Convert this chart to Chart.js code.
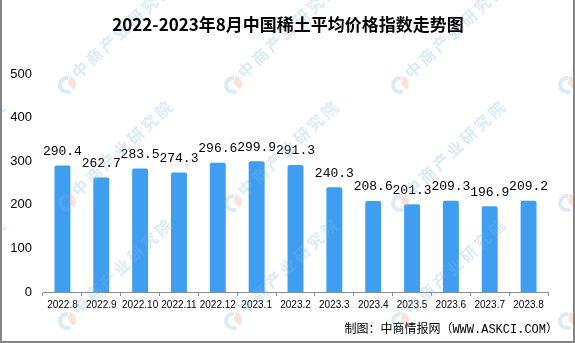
<!DOCTYPE html>
<html>
<head>
<meta charset="utf-8">
<script src="https://cdn.jsdelivr.net/npm/chart.js@4/dist/chart.umd.min.js"></script>
<style>
  html, body { margin: 0; padding: 0; background: #fff; overflow: hidden; }
  #wrap { width: 575px; height: 343px; position: relative; }
</style>
</head>
<body>
<div id="wrap"><canvas id="c" width="575" height="343"></canvas></div>
<script>
// 月份与中国稀土平均价格指数
const months = ['2022.8', '2022.9', '2022.10', '2022.11', '2022.12', '2023.1', '2023.2',
                '2023.3', '2023.4', '2023.5', '2023.6', '2023.7', '2023.8'];
const priceIndex = [290.4, 262.7, 283.5, 274.3, 296.6, 299.9, 291.3,
                    240.3, 208.6, 201.3, 209.3, 196.9, 209.2];
const yTicks = [0, 100, 200, 300, 400, 500];

const titleText = '2022-2023年8月中国稀土平均价格指数走势图';
const sourceText = '制图：中商情报网（WWW.ASKCI.COM）';
const watermarkText = '中商产业研究院';

const BAR_COLOR = 'rgb(64,158,240)';

// 标题、来源、数值标签、水印与边框
const decorPlugin = {
  id: 'decor',
  afterDatasetsDraw(chart) {
    const ctx = chart.ctx;
    const meta = chart.getDatasetMeta(0);
    ctx.save();
    ctx.font = '13px "Liberation Mono", monospace';
    ctx.fillStyle = '#000';
    ctx.textAlign = 'center';
    ctx.textBaseline = 'middle';
    meta.data.forEach((bar, i) => {
      ctx.fillText(priceIndex[i].toFixed(1), bar.x, bar.y - 14);
    });
    ctx.restore();
  },
  afterDraw(chart) {
    const ctx = chart.ctx;
    const W = chart.width, H = chart.height;

    // 水印
    ctx.save();
    ctx.globalAlpha = 0.28;
    const cols = [-100, 67, 233, 400, 567];
    const rows = [85, 203, 321];
    rows.forEach(y => {
      cols.forEach(x => {
        // 标志
        ctx.lineWidth = 4;
        ctx.strokeStyle = 'rgb(120,180,230)';
        ctx.beginPath();
        ctx.arc(x, y, 7, Math.PI * 0.35, Math.PI * 1.55);
        ctx.stroke();
        ctx.fillStyle = 'rgb(240,150,120)';
        ctx.beginPath();
        ctx.moveTo(x + 1, y - 1);
        ctx.arc(x + 1, y - 1, 8, -Math.PI * 0.45, Math.PI * 0.25);
        ctx.closePath();
        ctx.fill();
        // 文字
        ctx.save();
        ctx.translate(x, y);
        ctx.rotate(-Math.PI * 0.24);
        ctx.fillStyle = 'rgb(120,180,230)';
        ctx.font = 'bold 16px "Noto Sans CJK SC", sans-serif';
        ctx.textBaseline = 'middle';
        ctx.textAlign = 'center';
        for (let k = 0; k < watermarkText.length; k++) {
          ctx.fillText(watermarkText[k], 20 + k * 19, -2);
        }
        ctx.restore();
      });
    });
    ctx.restore();

    // 标题
    ctx.save();
    ctx.fillStyle = '#000';
    ctx.font = 'bold 17px "Noto Sans CJK SC", sans-serif';
    ctx.textAlign = 'center';
    ctx.textBaseline = 'middle';
    ctx.fillText(titleText, 288, 25);

    // 来源
    ctx.font = '12px "Liberation Mono", "Noto Sans CJK SC", monospace';
    ctx.textAlign = 'right';
    ctx.fillText(sourceText, 558, 330);
    ctx.restore();

    // 外框
    ctx.save();
    ctx.fillStyle = '#858585';
    ctx.fillRect(0, 0, 2, H);
    ctx.fillRect(W - 2, 0, 2, H);
    ctx.fillRect(0, H - 2, W, 2);
    ctx.restore();
  }
};

new Chart(document.getElementById('c'), {
  type: 'bar',
  data: {
    labels: months,
    datasets: [{
      data: priceIndex,
      backgroundColor: BAR_COLOR,
      borderRadius: { topLeft: 2, topRight: 2 },
      borderSkipped: 'bottom',
      categoryPercentage: 1,
      barPercentage: 0.41
    }]
  },
  options: {
    responsive: false,
    animation: false,
    devicePixelRatio: 1,
    layout: { padding: { top: 74, right: 27, bottom: 0, left: 0 } },
    plugins: {
      legend: { display: false },
      title: { display: false },
      tooltip: { enabled: false }
    },
    scales: {
      x: {
        grid: {
          display: true,
          drawOnChartArea: false,
          drawTicks: true,
          tickLength: 4,
          color: '#8c8c8c',
          offset: true
        },
        border: { display: true, color: '#8c8c8c', width: 1 },
        ticks: {
          font: { size: 10, family: '"Liberation Sans", sans-serif' },
          color: '#000',
          padding: 3,
          maxRotation: 0,
          minRotation: 0,
          autoSkip: false
        },
        afterFit(scale) { scale.height = 51; }
      },
      y: {
        min: 0,
        max: 500,
        afterBuildTicks(scale) { scale.ticks = yTicks.map(v => ({ value: v })); },
        grid: { display: false, drawTicks: false },
        border: { display: false },
        ticks: {
          font: { size: 13, family: '"Liberation Sans", sans-serif' },
          color: '#000',
          padding: 11
        },
        afterFit(scale) { scale.width = 43; }
      }
    }
  },
  plugins: [decorPlugin]
});
</script>
</body>
</html>
